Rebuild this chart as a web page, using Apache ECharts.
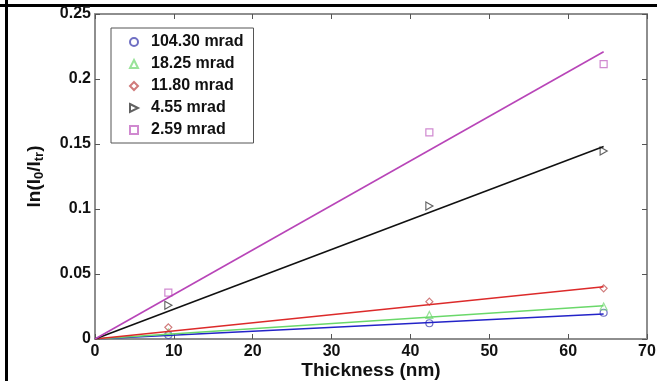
<!DOCTYPE html>
<html>
<head>
<meta charset="utf-8">
<script src="https://cdn.jsdelivr.net/npm/echarts@6/dist/echarts.min.js"></script>
<style>
  html, body { margin: 0; padding: 0; background: #fff; }
  #chart { width: 657px; height: 381px; }
</style>
</head>
<body>
<div id="chart"></div>
<script>
// measured thickness (nm)
const thickness = [9.3, 42.4, 64.5]

// legend names
const names = ['104.30 mrad', '18.25 mrad', '11.80 mrad', '4.55 mrad', '2.59 mrad']

// measured ln(I0/Itr) for each angle
const measured = [
  [0.003, 0.0121, 0.0202],
  [0.005, 0.0185, 0.025],
  [0.009, 0.0287, 0.039],
  [0.026, 0.1023, 0.1446],
  [0.0356, 0.159, 0.2115],
]

// linear fits through the origin: value at the end thickness
const fitEnd = 64.5
const fitEndValue = [0.0192, 0.0256, 0.0402, 0.148, 0.221]

const xTicks = [0, 10, 20, 30, 40, 50, 60, 70]
const yTicks = [0, 0.05, 0.1, 0.15, 0.2, 0.25]

const markerColors = ['#4b4bb4', '#7fdc7f', '#c45a5a', '#3a3a3a', '#c46cc4']
const lineColors = ['#2323c8', '#6ad86a', '#dc2a2a', '#111111', '#b845b8']
const symbols = [
  'circle',
  'triangle',
  'diamond',
  'path://M0,0 L10,5 L0,10 Z',
  'rect',
]

const font = 'Liberation Sans, Arial, sans-serif'
const chart = echarts.init(document.getElementById('chart'))

const fitSeries = fitEndValue.map((v, i) => ({
  name: 'fit ' + names[i],
  type: 'line',
  data: [[0, 0], [fitEnd, v]],
  showSymbol: false,
  symbol: 'none',
  silent: true,
  animation: false,
  lineStyle: { color: lineColors[i], width: 1.6 },
}))

const pointSeries = measured.map((vals, i) => ({
  name: names[i],
  type: 'scatter',
  data: vals.map((v, j) => [thickness[j], v]),
  symbol: symbols[i],
  symbolSize: i === 3 ? [7, 8] : 7,
  animation: false,
  itemStyle: {
    color: 'rgba(0,0,0,0)',
    borderColor: markerColors[i],
    borderWidth: 1.2,
  },
}))

const axisLine = { show: true, onZero: false, lineStyle: { color: '#8e8e8e', width: 2 } }
const axisTick = { show: true, inside: true, length: 5, lineStyle: { color: '#555', width: 1 } }
const label = { fontFamily: font, fontWeight: 'bold', fontSize: 16, color: '#111' }

const option = {
  backgroundColor: '#fff',
  animation: false,
  grid: { left: 95, top: 14, width: 552, height: 325, containLabel: false, outerBoundsMode: 'none' },
  legend: {
    orient: 'vertical',
    left: 111,
    top: 28,
    padding: [3, 10, 2, 18],
    itemGap: 0,
    itemWidth: 8,
    itemHeight: 8,
    borderColor: '#555',
    borderWidth: 1,
    data: names.map((n, i) => ({ name: n, icon: symbols[i] })),
    formatter: (n) => '{a|' + n + '}',
    textStyle: {
      fontFamily: font,
      fontWeight: 'bold',
      fontSize: 16,
      color: '#111',
      lineHeight: 22,
      rich: { a: { fontFamily: font, fontWeight: 'bold', fontSize: 16, color: '#111', lineHeight: 22, padding: [0, 0, 0, 8] } },
    },
  },
  xAxis: [
    {
      type: 'value', min: 0, max: 70, interval: 10,
      name: 'Thickness (nm)', nameLocation: 'middle', nameGap: 22, nameMoveOverlap: false,
      nameTextStyle: { fontFamily: font, fontWeight: 'bold', fontSize: 19, color: '#111' },
      axisLine, axisTick, splitLine: { show: false },
      axisLabel: Object.assign({ margin: 5, formatter: (v) => xTicks.includes(v) ? String(v) : '' }, label),
    },
    {
      type: 'value', position: 'top', min: 0, max: 70, interval: 10,
      axisLine, axisTick, axisLabel: { show: false }, splitLine: { show: false },
    },
  ],
  yAxis: [
    {
      type: 'value', min: 0, max: 0.25, interval: 0.05,
      name: '{n|ln(I}{s|0}{n|/I}{s|tr}{n|)}', nameLocation: 'middle', nameGap: 49, nameMoveOverlap: false,
      nameTextStyle: {
        rich: {
          n: { fontFamily: font, fontWeight: 'bold', fontSize: 19, color: '#111' },
          s: { fontFamily: font, fontWeight: 'bold', fontSize: 13, color: '#111', verticalAlign: 'bottom', padding: [10, 0, 0, 0] },
        },
      },
      axisLine, axisTick, splitLine: { show: false },
      axisLabel: Object.assign({ margin: 4, formatter: (v) => yTicks.includes(v) ? String(v) : '' }, label),
    },
    {
      type: 'value', position: 'right', min: 0, max: 0.25, interval: 0.05,
      axisLine, axisTick, axisLabel: { show: false }, splitLine: { show: false },
    },
  ],
  graphic: [
    { type: 'rect', left: 5, top: 0, shape: { width: 3, height: 381 }, style: { fill: '#000' }, silent: true },
    { type: 'rect', left: 0, top: 4, shape: { width: 657, height: 3 }, style: { fill: '#000' }, silent: true },
  ],
  series: fitSeries.concat(pointSeries),
}

chart.setOption(option)
</script>
</body>
</html>
